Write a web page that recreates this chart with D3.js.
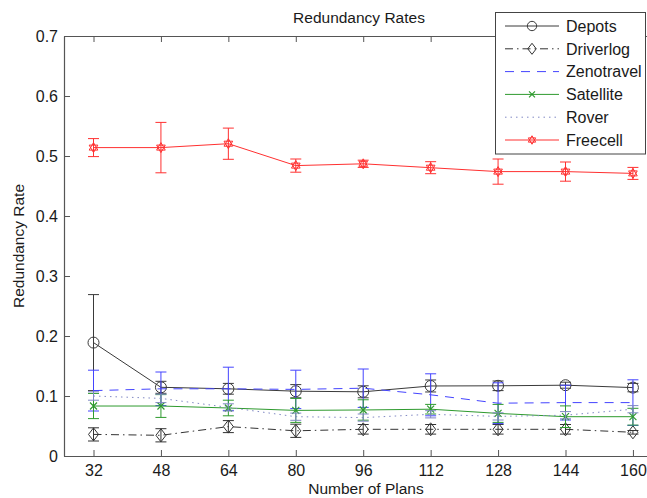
<!DOCTYPE html>
<html>
<head>
<meta charset="utf-8">
<script src="https://cdn.jsdelivr.net/npm/d3@7"></script>
<style>
  html, body { margin: 0; padding: 0; background: #fff; }
  svg { display: block; font-family: "Liberation Sans", Arial, Helvetica, sans-serif; }
</style>
</head>
<body>
<svg id="chart" width="647" height="498"></svg>
<script>
// Number of plans on the x axis
const plans = [32, 48, 64, 80, 96, 112, 128, 144, 160];
const yTicks = [0, 0.1, 0.2, 0.3, 0.4, 0.5, 0.6, 0.7];

// Mean redundancy rate and error half-width per domain
const depots       = [0.189, 0.1145, 0.112, 0.108, 0.107, 0.1167, 0.117, 0.118, 0.114];
const depotsErr    = [0.080, 0.010, 0.009, 0.011, 0.010, 0.010, 0.008, 0.005, 0.007];
const driverlog    = [0.036, 0.0345, 0.049, 0.042, 0.0445, 0.0445, 0.0445, 0.0445, 0.0395];
const driverlogErr = [0.011, 0.011, 0.010, 0.011, 0.008, 0.008, 0.008, 0.008, 0.003];
const zenotravel    = [0.109, 0.112, 0.112, 0.111, 0.113, 0.102, 0.088, 0.089, 0.089];
const zenotravelErr = [0.034, 0.028, 0.036, 0.032, 0.032, 0.035, 0.034, 0.029, 0.038];
const satellite    = [0.0833, 0.0833, 0.080, 0.076, 0.0767, 0.078, 0.071, 0.0655, 0.0655];
const satelliteErr = [0.021, 0.019, 0.013, 0.020, 0.017, 0.008, 0.015, 0.018, 0.014];
const rover    = [0.100, 0.096, 0.081, 0.0655, 0.064, 0.0695, 0.066, 0.068, 0.078];
const roverErr = [0.007, 0.007, 0.006, 0.006, 0.006, 0.006, 0.006, 0.006, 0.006];
const freecell    = [0.514, 0.514, 0.5205, 0.484, 0.487, 0.4805, 0.474, 0.474, 0.471];
const freecellErr = [0.015, 0.042, 0.026, 0.011, 0.006, 0.010, 0.021, 0.016, 0.010];

const seriesNames = ["Depots", "Driverlog", "Zenotravel", "Satellite", "Rover", "Freecell"];

const series = [
  { name: seriesNames[0], mean: depots,     err: depotsErr,     color: "#3a3a3a", dash: null,          marker: "circle" },
  { name: seriesNames[1], mean: driverlog,  err: driverlogErr,  color: "#333333", dash: "8,4,1.5,4",   marker: "diamond" },
  { name: seriesNames[2], mean: zenotravel, err: zenotravelErr, color: "#4444ff", dash: "9,7",         marker: null },
  { name: seriesNames[3], mean: satellite,  err: satelliteErr,  color: "#2e9a2e", dash: null,          marker: "x" },
  { name: seriesNames[4], mean: rover,      err: roverErr,      color: "#8088c4", dash: "1.5,4",       marker: null },
  { name: seriesNames[5], mean: freecell,   err: freecellErr,   color: "#ff3030", dash: null,          marker: "hexagram" }
];

const svg = d3.select("#chart");
const plotLeft = 64, plotRight = 654, plotTop = 36, plotBottom = 456;

const x = d3.scaleLinear().domain([25, 165]).range([plotLeft, plotRight]);
const y = d3.scaleLinear().domain([0, 0.7]).range([plotBottom, plotTop]);

const axisColor = "#555";
const textColor = "#1a1a1a";

// Axes box with inward ticks
const gx = svg.append("g").attr("transform", `translate(0,${plotBottom})`)
  .call(d3.axisBottom(x).tickValues(plans).tickSizeInner(-6).tickSizeOuter(0).tickPadding(9));
const gxt = svg.append("g").attr("transform", `translate(0,${plotTop})`)
  .call(d3.axisTop(x).tickValues(plans).tickSizeInner(-6).tickSizeOuter(0).tickFormat(""));
const gy = svg.append("g").attr("transform", `translate(${plotLeft},0)`)
  .call(d3.axisLeft(y).tickValues(yTicks).tickSizeInner(-6).tickSizeOuter(0).tickPadding(6)
    .tickFormat(d => d === 0 ? "0" : d3.format(".1f")(d)));

[gx, gxt, gy].forEach(g => {
  g.select(".domain").attr("stroke", axisColor).attr("stroke-width", 1.2);
  g.selectAll(".tick line").attr("stroke", axisColor).attr("stroke-width", 1);
  g.selectAll(".tick text").attr("fill", textColor).style("font-size", "16px")
    .style("font-family", '"Liberation Sans", Arial, sans-serif');
});

// Titles
svg.append("text").attr("x", 359).attr("y", 23).attr("text-anchor", "middle")
  .attr("fill", textColor).style("font-size", "15.5px").text("Redundancy Rates");
svg.append("text").attr("x", 366).attr("y", 494).attr("text-anchor", "middle")
  .attr("fill", textColor).style("font-size", "15.5px").text("Number of Plans");
svg.append("text").attr("transform", `translate(24,${(plotTop + plotBottom) / 2}) rotate(-90)`)
  .attr("text-anchor", "middle").attr("fill", textColor).style("font-size", "15.5px")
  .text("Redundancy Rate");

// Marker shapes
function drawMarker(g, type, cx, cy, color, scale) {
  const s = scale || 1;
  if (type === "circle") {
    g.append("circle").attr("cx", cx).attr("cy", cy).attr("r", 5.5 * s)
      .attr("fill", "none").attr("stroke", color).attr("stroke-width", 1);
  } else if (type === "diamond") {
    const w = 5 * s, h = 6.5 * s;
    g.append("path").attr("d", `M${cx},${cy - h}L${cx + w},${cy}L${cx},${cy + h}L${cx - w},${cy}Z`)
      .attr("fill", "none").attr("stroke", color).attr("stroke-width", 1);
  } else if (type === "x") {
    const r = 3.5 * s;
    g.append("path").attr("d", `M${cx - r},${cy - r}L${cx + r},${cy + r}M${cx - r},${cy + r}L${cx + r},${cy - r}`)
      .attr("stroke", color).attr("stroke-width", 1.2);
  } else if (type === "hexagram") {
    const r = 5 * s;
    const tri = a0 => d3.range(3).map(i => {
      const a = a0 + i * 2 * Math.PI / 3;
      return [cx + r * Math.cos(a), cy + r * Math.sin(a)];
    });
    [tri(-Math.PI / 2), tri(Math.PI / 2)].forEach(pts => {
      g.append("path").attr("d", "M" + pts.map(p => p.join(",")).join("L") + "Z")
        .attr("fill", "none").attr("stroke", color).attr("stroke-width", 1);
    });
  }
}

const line = d3.line().x(d => x(d.p)).y(d => y(d.v));
const capHalf = 5.5;

series.forEach(s => {
  const g = svg.append("g");
  const pts = plans.map((p, i) => ({ p, v: s.mean[i], e: s.err[i] }));
  // error bars
  pts.forEach(d => {
    const xx = x(d.p), y1 = y(d.v + d.e), y0 = y(d.v - d.e);
    g.append("path")
      .attr("d", `M${xx},${y1}L${xx},${y0}M${xx - capHalf},${y1}L${xx + capHalf},${y1}M${xx - capHalf},${y0}L${xx + capHalf},${y0}`)
      .attr("stroke", s.color).attr("stroke-width", 1).attr("fill", "none");
  });
  // series line
  g.append("path").datum(pts).attr("d", line)
    .attr("fill", "none").attr("stroke", s.color).attr("stroke-width", 1)
    .attr("stroke-dasharray", s.dash);
  if (s.marker) pts.forEach(d => drawMarker(g, s.marker, x(d.p), y(d.v), s.color));
});

// Legend
const lg = svg.append("g");
lg.append("rect").attr("x", 495.5).attr("y", 12.5).attr("width", 150).attr("height", 141.5)
  .attr("fill", "#fff").attr("stroke", "#444").attr("stroke-width", 1);
series.forEach((s, i) => {
  const ly = 26 + i * 22.8;
  lg.append("line").attr("x1", 505).attr("x2", 559).attr("y1", ly).attr("y2", ly)
    .attr("stroke", s.color).attr("stroke-width", 1).attr("stroke-dasharray", s.dash);
  if (s.marker) drawMarker(lg, s.marker, 532, ly, s.color, 0.85);
  lg.append("text").attr("x", 566).attr("y", ly).attr("dy", "0.36em")
    .attr("fill", textColor).style("font-size", "16px").text(s.name);
});
</script>
</body>
</html>
